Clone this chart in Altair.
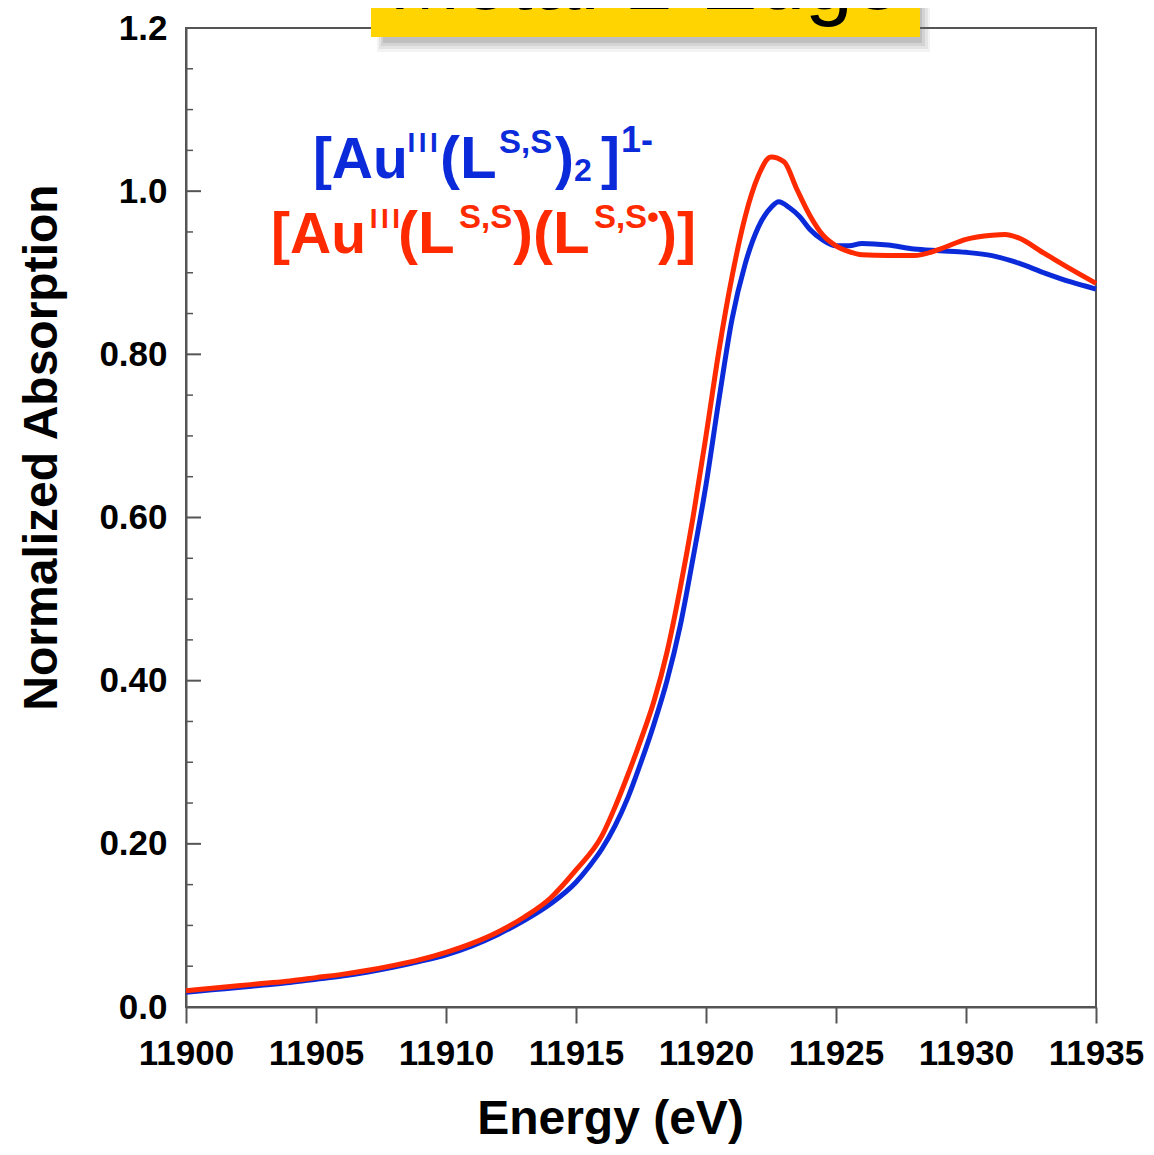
import altair as alt
import pandas as pd

# ---------------- data ----------------
energy_red = [11900, 11901, 11902, 11903, 11904, 11905, 11906, 11907, 11908, 11909,
              11910, 11911, 11912, 11913, 11914, 11915, 11916, 11916.5, 11917, 11917.5,
              11918, 11918.5, 11919, 11919.5, 11920, 11920.5, 11921, 11921.5, 11922, 11922.5,
              11923, 11923.5, 11924, 11924.5, 11925, 11925.5, 11926, 11927, 11928, 11929,
              11930, 11931, 11931.5, 11932, 11933, 11934, 11935]
absorb_red = [0.020, 0.023, 0.026, 0.029, 0.032, 0.036, 0.040, 0.045, 0.051, 0.058,
              0.067, 0.078, 0.092, 0.110, 0.133, 0.168, 0.210, 0.245, 0.285, 0.328,
              0.375, 0.435, 0.512, 0.600, 0.700, 0.805, 0.895, 0.968, 1.018, 1.042,
              1.036, 1.002, 0.970, 0.946, 0.933, 0.926, 0.922, 0.921, 0.921, 0.929,
              0.941, 0.946, 0.947, 0.943, 0.924, 0.905, 0.887]

energy_blue = [11900, 11901, 11902, 11903, 11904, 11905, 11906, 11907, 11908, 11909,
               11910, 11911, 11912, 11913, 11914, 11915, 11915.5, 11916, 11916.5, 11917, 11917.5,
               11918, 11918.5, 11919, 11919.5, 11920, 11920.5, 11921, 11921.5, 11922, 11922.5,
               11922.8, 11923.2, 11923.6, 11924, 11924.5, 11925, 11925.5, 11926, 11927, 11928,
               11929, 11930, 11931, 11932, 11933, 11934, 11935]
absorb_blue = [0.018, 0.021, 0.024, 0.027, 0.030, 0.034, 0.038, 0.043, 0.049, 0.056,
               0.064, 0.075, 0.089, 0.106, 0.126, 0.153, 0.172, 0.194, 0.222, 0.257, 0.300,
               0.347, 0.400, 0.466, 0.550, 0.640, 0.745, 0.843, 0.910, 0.955, 0.980,
               0.987, 0.980, 0.969, 0.953, 0.940, 0.933, 0.933, 0.936, 0.934, 0.929,
               0.927, 0.925, 0.921, 0.912, 0.900, 0.889, 0.880]

x_ticks = [11900, 11905, 11910, 11915, 11920, 11925, 11930, 11935]
y_major = [0.0, 0.2, 0.4, 0.6, 0.8, 1.0, 1.2]
y_minor = [0.05, 0.10, 0.15, 0.25, 0.30, 0.35, 0.45, 0.50, 0.55, 0.65, 0.70, 0.75,
           0.85, 0.90, 0.95, 1.05, 1.10, 1.15]

title_text = "Metal L-Edge"

# formula labels: pieces (text, energy, absorption, font size, colour)
label_text = ["[Au", "I", "I", "I", "(L", "S,S", ")", "2", "]", "1-",
              "[Au", "I", "I", "I", "(L", "S,S", ")(L", "S,S\u2022", ")]"]
label_e = [11904.88, 11908.52, 11908.95, 11909.38, 11909.77, 11912.04, 11914.19, 11914.92, 11915.96, 11916.73,
           11903.27, 11907.07, 11907.50, 11907.93, 11908.15, 11910.50, 11912.58, 11915.69, 11918.15]
label_v = [1.016, 1.048, 1.048, 1.048, 1.016, 1.047, 1.016, 1.012, 1.016, 1.048,
           0.924, 0.955, 0.955, 0.955, 0.924, 0.955, 0.924, 0.955, 0.924]
label_size = [57, 28, 28, 28, 60, 33, 57, 32, 57, 36,
              57, 28, 28, 28, 60, 33, 60, 33, 57]
BLUE = "#0B2BDA"
RED = "#FF2A00"
label_color = [BLUE] * 10 + [RED] * 9

# ---------------- chart ----------------
FONT = "Liberation Sans"
AXC = "#555555"
W, H = 910, 979

xscale = alt.Scale(domain=[11900, 11935], nice=False, zero=False)
yscale = alt.Scale(domain=[0, 1.2], nice=False, zero=False)

df_red = pd.DataFrame({"E": energy_red, "A": absorb_red})
df_blue = pd.DataFrame({"E": energy_blue, "A": absorb_blue})

xaxis = alt.Axis(values=x_ticks, format="d", labelFont=FONT, labelFontWeight="bold",
                 labelFontSize=35, labelColor="black", labelPadding=13,
                 tickSize=16, tickWidth=2, tickColor=AXC, domainColor=AXC, domainWidth=2,
                 grid=False, title="Energy (eV)", titleFont=FONT, titleFontWeight="bold",
                 titleFontSize=48, titleColor="black", titleX=424, titleY=126,
                 titleBaseline="alphabetic", labelFlush=False)
yaxis = alt.Axis(values=y_major, labelFont=FONT, labelFontWeight="bold",
                 labelFontSize=35, labelColor="black", labelPadding=19,
                 labelExpr="datum.value == 0 ? '0.0' : (datum.value >= 1 ? format(datum.value, '.1f') : format(datum.value, '.2f'))",
                 tickSize=0, domainColor=AXC, domainWidth=2, grid=False,
                 title="Normalized Absorption", titleFont=FONT, titleFontWeight="bold",
                 titleFontSize=48, titleColor="black", titleX=-130, titleY=419,
                 titleBaseline="alphabetic", labelFlush=False)

blue_line = alt.Chart(df_blue).mark_line(color=BLUE, strokeWidth=5, interpolate="monotone").encode(
    x=alt.X("E:Q", scale=xscale, axis=xaxis),
    y=alt.Y("A:Q", scale=yscale, axis=yaxis),
)
red_line = alt.Chart(df_red).mark_line(color=RED, strokeWidth=5, interpolate="monotone").encode(
    x=alt.X("E:Q", scale=xscale),
    y=alt.Y("A:Q", scale=yscale),
)

# inward y ticks
maj = alt.Chart(pd.DataFrame({"v": y_major})).mark_rule(color=AXC, strokeWidth=2).encode(
    y=alt.Y("v:Q", scale=yscale), x=alt.value(0), x2=alt.value(15))
mnr = alt.Chart(pd.DataFrame({"v": y_minor})).mark_rule(color=AXC, strokeWidth=1.5).encode(
    y=alt.Y("v:Q", scale=yscale), x=alt.value(0), x2=alt.value(7))

labels = alt.Chart(pd.DataFrame({"t": label_text, "E": label_e, "A": label_v,
                                 "s": label_size, "c": label_color})).mark_text(
    align="left", baseline="alphabetic", font=FONT, fontWeight="bold").encode(
    x=alt.X("E:Q", scale=xscale), y=alt.Y("A:Q", scale=yscale),
    text="t:N", size=alt.Size("s:Q", scale=None, legend=None),
    color=alt.Color("c:N", scale=None, legend=None))

# title box with soft shadow
shadow_specs = [(191, 744, 24, 0.08), (193, 742, 21, 0.10), (195, 739, 18, 0.13), (197, 736, 15, 0.18)]
shadows = []
for x1, x2, y2, op in shadow_specs:
    shadows.append(alt.Chart(pd.DataFrame({"k": [0]})).mark_rect(color="#666666", opacity=op).encode(
        x=alt.value(x1), x2=alt.value(x2), y=alt.value(-20), y2=alt.value(y2)))
box = alt.Chart(pd.DataFrame({"k": [0]})).mark_rect(color="#FFD400").encode(
    x=alt.value(185), x2=alt.value(734), y=alt.value(-20), y2=alt.value(9))
title = alt.Chart(pd.DataFrame({"t": [title_text]})).mark_text(
    font=FONT, fontSize=86, align="center", baseline="alphabetic", color="black").encode(
    text="t:N", x=alt.value(459), y=alt.value(-19))

chart = alt.layer(mnr, maj, blue_line, red_line, labels, *shadows, box, title).properties(
    width=W, height=H,
    autosize=alt.AutoSizeParams(type="none"),
    padding={"left": 178, "top": 20, "right": 48, "bottom": 138},
    background="white",
).configure_view(stroke=AXC, strokeWidth=2)

chart.save("out.html", embed_options={"renderer": "svg", "actions": False})
